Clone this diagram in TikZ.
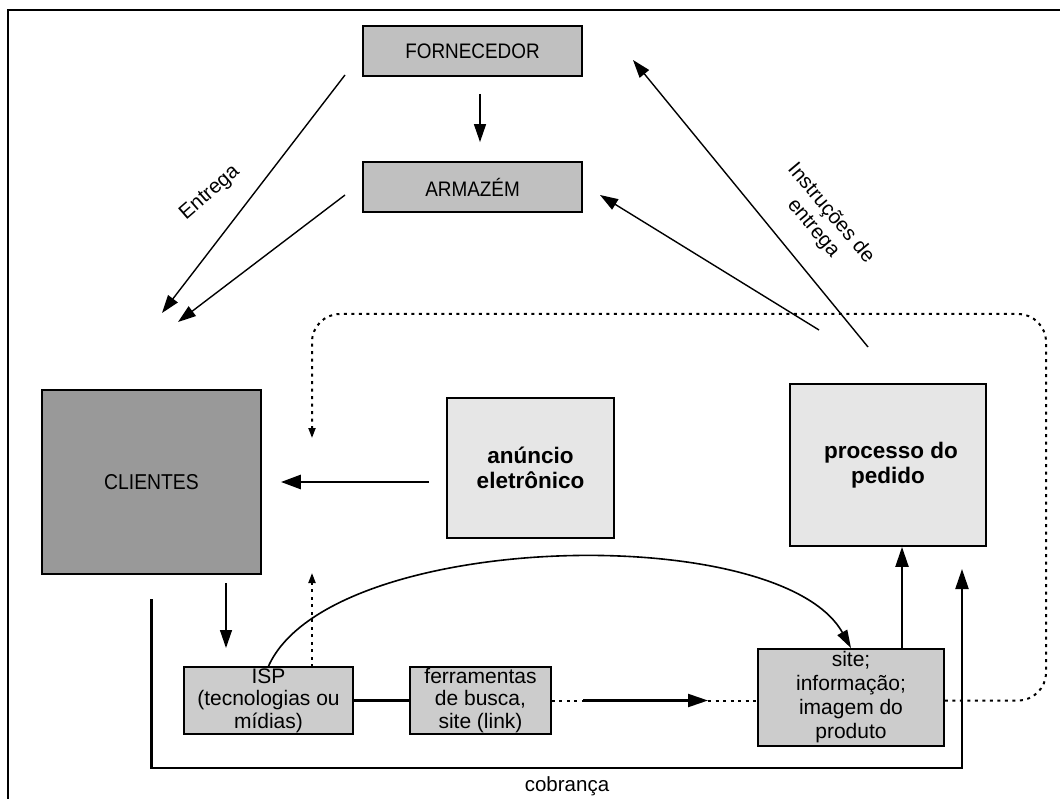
\documentclass[tikz,border=0pt]{standalone}
\usepackage{fontspec}
\setmainfont{Liberation Sans}
\newfontfamily\narrowsans{Liberation Sans}[FakeStretch=0.9]
\usetikzlibrary{arrows.meta}
\definecolor{topgray}{HTML}{C0C0C0}
\definecolor{clientgray}{HTML}{999999}
\definecolor{lightbox}{HTML}{E6E6E6}
\definecolor{midbox}{HTML}{CCCCCC}
\begin{document}
\begin{tikzpicture}[x=1pt,y=-1pt,
  box/.style={draw=black, line width=1.8pt, inner sep=0pt, align=center,
    font=\fontsize{21}{24}\selectfont},
  topbox/.style={box, fill=topgray, font=\narrowsans\fontsize{21}{23}\selectfont},
  clientbox/.style={box, fill=clientgray, font=\narrowsans\fontsize{21.5}{23}\selectfont},
  boldbox/.style={box, fill=lightbox, font=\fontsize{22.5}{25}\selectfont\bfseries},
  smallbox/.style={box, fill=midbox},
  tightbox/.style={smallbox, font=\fontsize{21}{22.5}\selectfont},
  lbl/.style={inner sep=0pt, align=center, font=\fontsize{20.5}{23}\selectfont},
  arr/.style={line width=1.4pt, -{Triangle[length=18pt,width=12pt]}},
  thickarr/.style={line width=2.2pt, -{Triangle[length=20pt,width=13pt]}},
  plain/.style={line width=2.2pt},
  dotline/.style={line width=2pt, dash pattern=on 3pt off 4.5pt},
  dotarr/.style={dotline, -{Triangle[length=10pt,width=7pt]}}
]
\useasboundingbox (0,0) rectangle (1060,799);
\clip (0,0) rectangle (1060,799);

% outer frame
\draw[line width=2pt] (8,830) -- (8,10) -- (1090,10);

% boxes
\node[topbox, minimum width=219pt, minimum height=50pt] (forn) at (472.5,51) {FORNECEDOR};
\node[topbox, minimum width=219pt, minimum height=50pt] (arm) at (472.5,187) {ARMAZÉM};
\node[clientbox, minimum width=219pt, minimum height=184pt] (cli) at (151.5,482) {CLIENTES};
\node[boldbox, minimum width=167pt, minimum height=140pt] (anun) at (530.5,468) {anúncio\\eletrônico};
\node[boldbox, minimum width=196pt, minimum height=162pt] (proc) at (888,465) {\hspace*{6pt}processo do\\pedido};
\node[tightbox, minimum width=169pt, minimum height=67pt] (isp) at (268.5,700.5) {ISP\\(tecnologias ou\\mídias)};
\node[tightbox, minimum width=141pt, minimum height=67pt] (ferr) at (480.5,700.5) {ferramentas\\de busca,\\site (link)};
\node[smallbox, minimum width=186pt, minimum height=97pt] (site) at (851,697.5) {site;\\informação;\\imagem do\\produto};

% free ends of the connectors
\coordinate (ent1) at (345,75);
\coordinate (ent2) at (162,313);
\coordinate (ac1) at (345,195);
\coordinate (ac2) at (178,322);
\coordinate (pf1) at (868,347);
\coordinate (pf2) at (633,60);
\coordinate (pa1) at (819,330);
\coordinate (pa2) at (600,195);
\coordinate (loopR) at (1046,700.5);
\coordinate (loopTR) at (1046,314);
\coordinate (loopTL) at (312,314);
\coordinate (loopEnd) at (312,438);
\coordinate (ci1) at (226,583);
\coordinate (ci2) at (226,648);
\coordinate (up1) at (312,667);
\coordinate (up2) at (312,573);
\coordinate (mid1) at (583,700.5);
\coordinate (mid2) at (708,700.5);
\coordinate (cob1) at (151.5,599);
\coordinate (cobL) at (151.5,768);
\coordinate (cobR) at (962,768);
\coordinate (cob2) at (962,569);

% supply side
\draw[arr] ([xshift=7.5pt,yshift=-17pt]forn.south) -- ([xshift=7.5pt,yshift=19pt]arm.north);
\draw[arr] (ent1) -- (ent2);
\draw[arr] (ac1) -- (ac2);
\node[lbl, rotate=41] (entrega) at (210,193) {Entrega};

% order instructions
\draw[arr] (pf1) -- (pf2);
\draw[arr] (pa1) -- (pa2);
\node[lbl, rotate=-50] (instr) at (822,221) {Instruções de\\entrega};

% dotted feedback loop
\draw[dotarr, rounded corners=28pt] (site.east |- ferr.east) -- (loopR) -- (loopTR) -- (loopTL) -- (loopEnd);

% advertising
\draw[line width=2.8pt, -{Triangle[length=20pt,width=14pt]}, shorten <=17pt, shorten >=19pt]
  (anun.west |- cli.east) -- (cli.east);

% customers to the web
\draw[arr] (ci1) -- (ci2);
\draw[dotarr] (up1) -- (up2);
\draw[plain] (isp.east) -- (ferr.west);
\draw[dotline] (ferr.east) -- (mid1);
\draw[thickarr] (mid1) -- (mid2);
\draw[dotline] (mid2) -- (site.west |- ferr.east);
\draw[line width=1.6pt, -{Triangle[length=18pt,width=11pt]}]
  (isp.north) .. controls (330,530) and (780,520) .. (site.north);
\draw[thickarr] ([xshift=51pt]site.north) -- ([xshift=51pt]site.north |- proc.south);

% billing
\draw[thickarr] (cob1) -- (cobL) -- (cobR) -- (cob2);
\node[lbl] (cob) at (567,786) {cobrança};
\end{tikzpicture}
\end{document}
